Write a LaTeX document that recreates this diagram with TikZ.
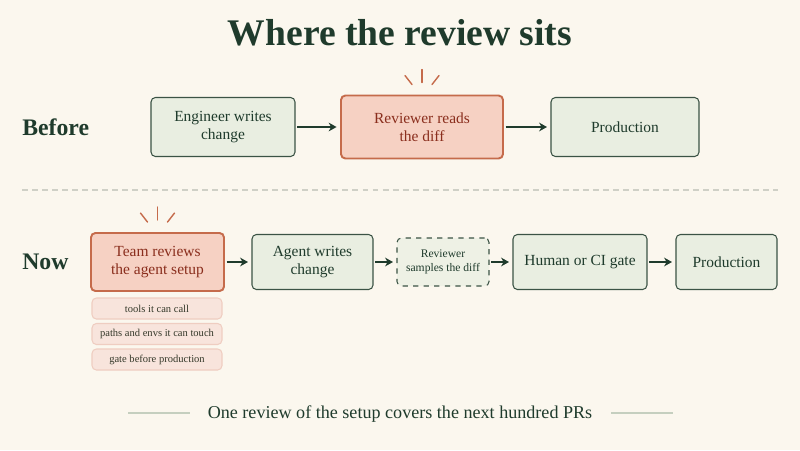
\documentclass[tikz,border=0pt]{standalone}
\usepackage{fontspec}
\setmainfont{Liberation Serif}
\usetikzlibrary{arrows.meta}

\definecolor{paper}{HTML}{FBF7EE}
\definecolor{ink}{HTML}{1F3B2C}
\definecolor{leaf}{HTML}{E9EEE1}
\definecolor{leafline}{HTML}{3B5345}
\definecolor{blush}{HTML}{F6D1C3}
\definecolor{rust}{HTML}{C56B4B}
\definecolor{brick}{HTML}{8A2E1D}
\definecolor{petal}{HTML}{F8E4DC}
\definecolor{petalline}{HTML}{EFCDC1}
\definecolor{mist}{HTML}{CFD0C6}
\definecolor{sage}{HTML}{C5CFBF}

\begin{document}
\begin{tikzpicture}[x=0.02cm, y=-0.02cm,
        box/.style={draw=leafline, fill=leaf, line width=0.6pt, rounded corners=2.5pt, align=center, text=ink, font=\fontsize{8.8}{10.4}\selectfont, inner sep=0pt},
        hot/.style={box, draw=rust, fill=blush, line width=1.1pt, text=brick},
        sampled/.style={box, dashed, fill=leaf!70!paper, font=\fontsize{6.6}{8}\selectfont},
        tag/.style={draw=petalline, fill=petal, line width=0.6pt, rounded corners=2.5pt, text=ink!80!brick, font=\fontsize{6}{7}\selectfont, minimum width=2.6cm, minimum height=0.42cm, inner sep=0pt},
        rowlabel/.style={anchor=base west, inner sep=0pt, text=ink, font=\fontsize{13.5}{16}\selectfont\bfseries},
        flow/.style={draw=ink, line width=0.8pt, -{Stealth[length=4.5pt, width=5pt]}, shorten <=1pt, shorten >=2pt},
        ray/.style={draw=rust, line width=0.8pt, line cap=round}]
                \fill[paper](0,0)rectangle(800,450);
                \useasboundingbox(0,0)rectangle(800,450);

                \node[anchor=base, text=ink, font=\fontsize{21.4}{25}\selectfont\bfseries](title)at(400,45){Where the review sits};

                % before
                \node[rowlabel](before)at(22,135){Before};
                \node[box, minimum width=2.88cm, minimum height=1.18cm](eng)at(223,127){Engineer writes\\change};
                \node[hot, minimum width=3.24cm, minimum height=1.26cm](rev)at(422,127){Reviewer reads\\the diff};
                \node[box, minimum width=2.96cm, minimum height=1.18cm](prodA)at(625,127){Production};
                \path[flow](eng.east)to(rev.west);
                \path[flow](rev.east)to(prodA.west);

                \path[draw, mist, line width=0.6pt, dash pattern=on 3.4pt off 2.3pt](22,190)to(778,190);

                % now
                \node[rowlabel](now)at(22,269){Now};
                \node[hot, minimum width=2.66cm, minimum height=1.16cm](team)at(157.5,262){Team reviews\\the agent setup};
                \node[box, minimum width=2.42cm, minimum height=1.1cm](agent)at(312.5,262){Agent writes\\change};
                \node[sampled, minimum width=1.84cm, minimum height=0.96cm](samp)at(443,262){Reviewer\\samples the diff};
                \node[box, minimum width=2.68cm, minimum height=1.1cm](gate)at(580,262){Human or CI gate};
                \node[box, minimum width=2.02cm, minimum height=1.1cm](prodB)at(726.5,262){Production};
                \path[flow](team.east)to(agent.west);
                \path[flow](agent.east)to(samp.west);
                \path[flow](samp.east)to(gate.west);
                \path[flow](gate.east)to(prodB.west);

                \node[tag](tools)at(157,308.5){tools it can call};
                \node[tag](paths)at(157,334){paths and envs it can touch};
                \node[tag](gatetag)at(157,359.5){gate before production};

                \foreach \n in {rev,team}{
                    \path[ray]([shift={(0,-12)}]\n.north)to([shift={(0,-25)}]\n.north);
                    \path[ray]([shift={(-10,-10)}]\n.north)to([shift={(-17,-19)}]\n.north);
                    \path[ray]([shift={(10,-10)}]\n.north)to([shift={(17,-19)}]\n.north);
                }

                % footer
                \node[anchor=base, text=ink, font=\fontsize{10.3}{12}\selectfont](note)at(400,418){One review of the setup covers the next hundred PRs};
                \coordinate(L1)at(128,413);
                \coordinate(L2)at(190,413);
                \coordinate(R1)at(611,413);
                \coordinate(R2)at(673,413);
                \path[draw, sage, line width=0.6pt](L1)to(L2);
                \path[draw, sage, line width=0.6pt](R1)to(R2);
            \end{tikzpicture}
\end{document}
